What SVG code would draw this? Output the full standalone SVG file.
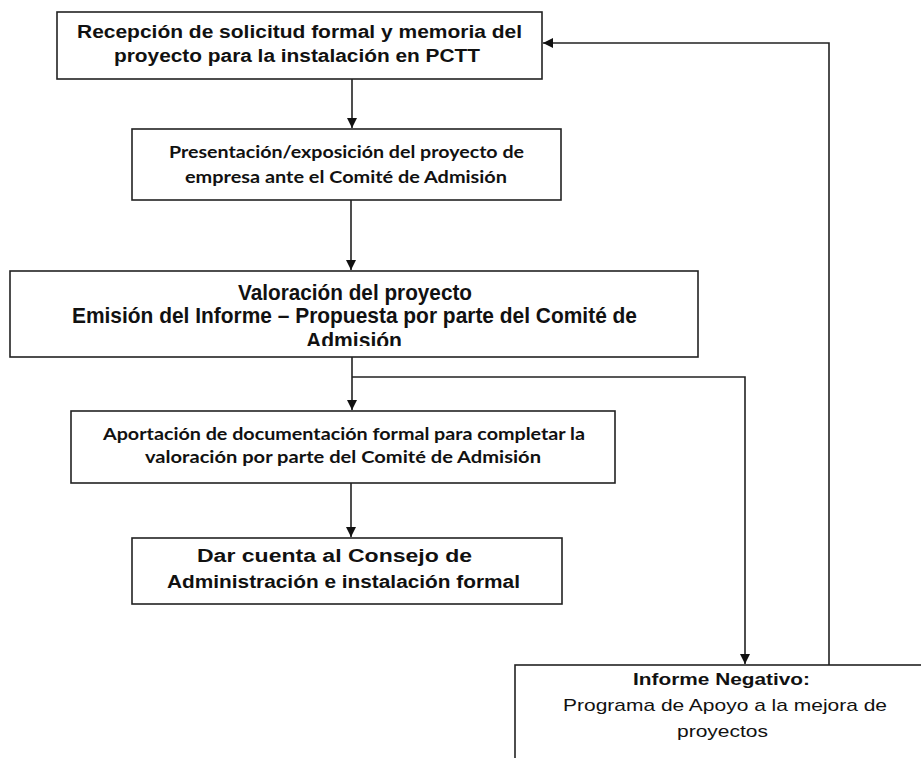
<svg xmlns="http://www.w3.org/2000/svg" width="921" height="758" viewBox="0 0 921 758">
<style>
.box{fill:#fff;stroke:#222;stroke-width:1.6}
.con{fill:none;stroke:#222;stroke-width:1.6}
.arial{font-family:"Liberation Sans",Arial,sans-serif;fill:#111;text-anchor:middle}
.b{font-weight:bold}
.cal{font-family:Lato,"Open Sans",sans-serif;font-weight:bold;fill:#111;text-anchor:middle}
.narrow{font-family:"Liberation Sans Narrow","Liberation Sans",Arial,sans-serif;font-weight:bold;fill:#111;text-anchor:middle}
</style>
<defs>
<marker id="ah" viewBox="0 0 10 10" refX="10" refY="5" markerWidth="11" markerHeight="10" markerUnits="userSpaceOnUse" orient="auto">
<path d="M0,0 L10,5 L0,10 z" fill="#111"/>
</marker>
<clipPath id="c3"><rect x="10" y="271" width="688" height="75"/></clipPath>
</defs>
<rect width="921" height="758" fill="#fff"/>
<g id="connectors">
<line class="con" x1="352" y1="79" x2="352" y2="128" marker-end="url(#ah)"/>
<line class="con" x1="351" y1="200" x2="351" y2="270" marker-end="url(#ah)"/>
<line class="con" x1="352" y1="357" x2="352" y2="410" marker-end="url(#ah)"/>
<polyline class="con" points="352,377 745,377 745,664" marker-end="url(#ah)"/>
<line class="con" x1="351" y1="483" x2="351" y2="537" marker-end="url(#ah)"/>
<polyline class="con" points="829,665 829,43 543,43" marker-end="url(#ah)"/>
</g>
<g id="n1">
<rect class="box" x="57" y="12" width="485" height="67"/>
<text class="arial b" font-size="17.5" x="299.5" y="38" textLength="445" lengthAdjust="spacingAndGlyphs">Recepción de solicitud formal y memoria del</text>
<text class="arial b" font-size="17.5" x="297" y="62" textLength="366" lengthAdjust="spacingAndGlyphs">proyecto para la instalación en PCTT</text>
</g>
<g id="n2">
<rect class="box" x="132" y="129" width="429" height="71"/>
<text class="cal" font-size="17" x="346.5" y="158" textLength="355" lengthAdjust="spacingAndGlyphs">Presentación/exposición del proyecto de</text>
<text class="cal" font-size="17" x="346" y="183" textLength="322" lengthAdjust="spacingAndGlyphs">empresa ante el Comité de Admisión</text>
</g>
<g id="n3">
<rect class="box" x="10" y="271" width="688" height="86"/>
<text class="narrow" font-size="22" x="355" y="300" textLength="234" lengthAdjust="spacingAndGlyphs">Valoración del proyecto</text>
<text class="narrow" font-size="22" x="354.5" y="323" textLength="565" lengthAdjust="spacingAndGlyphs">Emisión del Informe – Propuesta por parte del Comité de</text>
<text class="narrow" font-size="22" x="354" y="348" textLength="96" lengthAdjust="spacingAndGlyphs" clip-path="url(#c3)">Admisión</text>
</g>
<g id="n4">
<rect class="box" x="71" y="411" width="544" height="72"/>
<text class="cal" font-size="17" x="344" y="440" textLength="482" lengthAdjust="spacingAndGlyphs">Aportación de documentación formal para completar la</text>
<text class="cal" font-size="17" x="343" y="463" textLength="396" lengthAdjust="spacingAndGlyphs">valoración por parte del Comité de Admisión</text>
</g>
<g id="n5">
<rect class="box" x="132" y="538" width="430" height="66"/>
<text class="arial b" font-size="18" x="197" y="562" textLength="275" lengthAdjust="spacingAndGlyphs" style="text-anchor:start">Dar cuenta al Consejo de</text>
<text class="arial b" font-size="18" x="167" y="588" textLength="353" lengthAdjust="spacingAndGlyphs" style="text-anchor:start">Administración e instalación formal</text>
</g>
<g id="n6">
<rect class="box" x="515" y="665" width="425" height="110"/>
<text class="arial b" font-size="17" x="721.5" y="685" textLength="177" lengthAdjust="spacingAndGlyphs">Informe Negativo:</text>
<text class="arial" font-size="17" x="725" y="711" textLength="324" lengthAdjust="spacingAndGlyphs">Programa de Apoyo a la mejora de</text>
<text class="arial" font-size="17" x="722.5" y="737" textLength="91" lengthAdjust="spacingAndGlyphs">proyectos</text>
</g>
</svg>
